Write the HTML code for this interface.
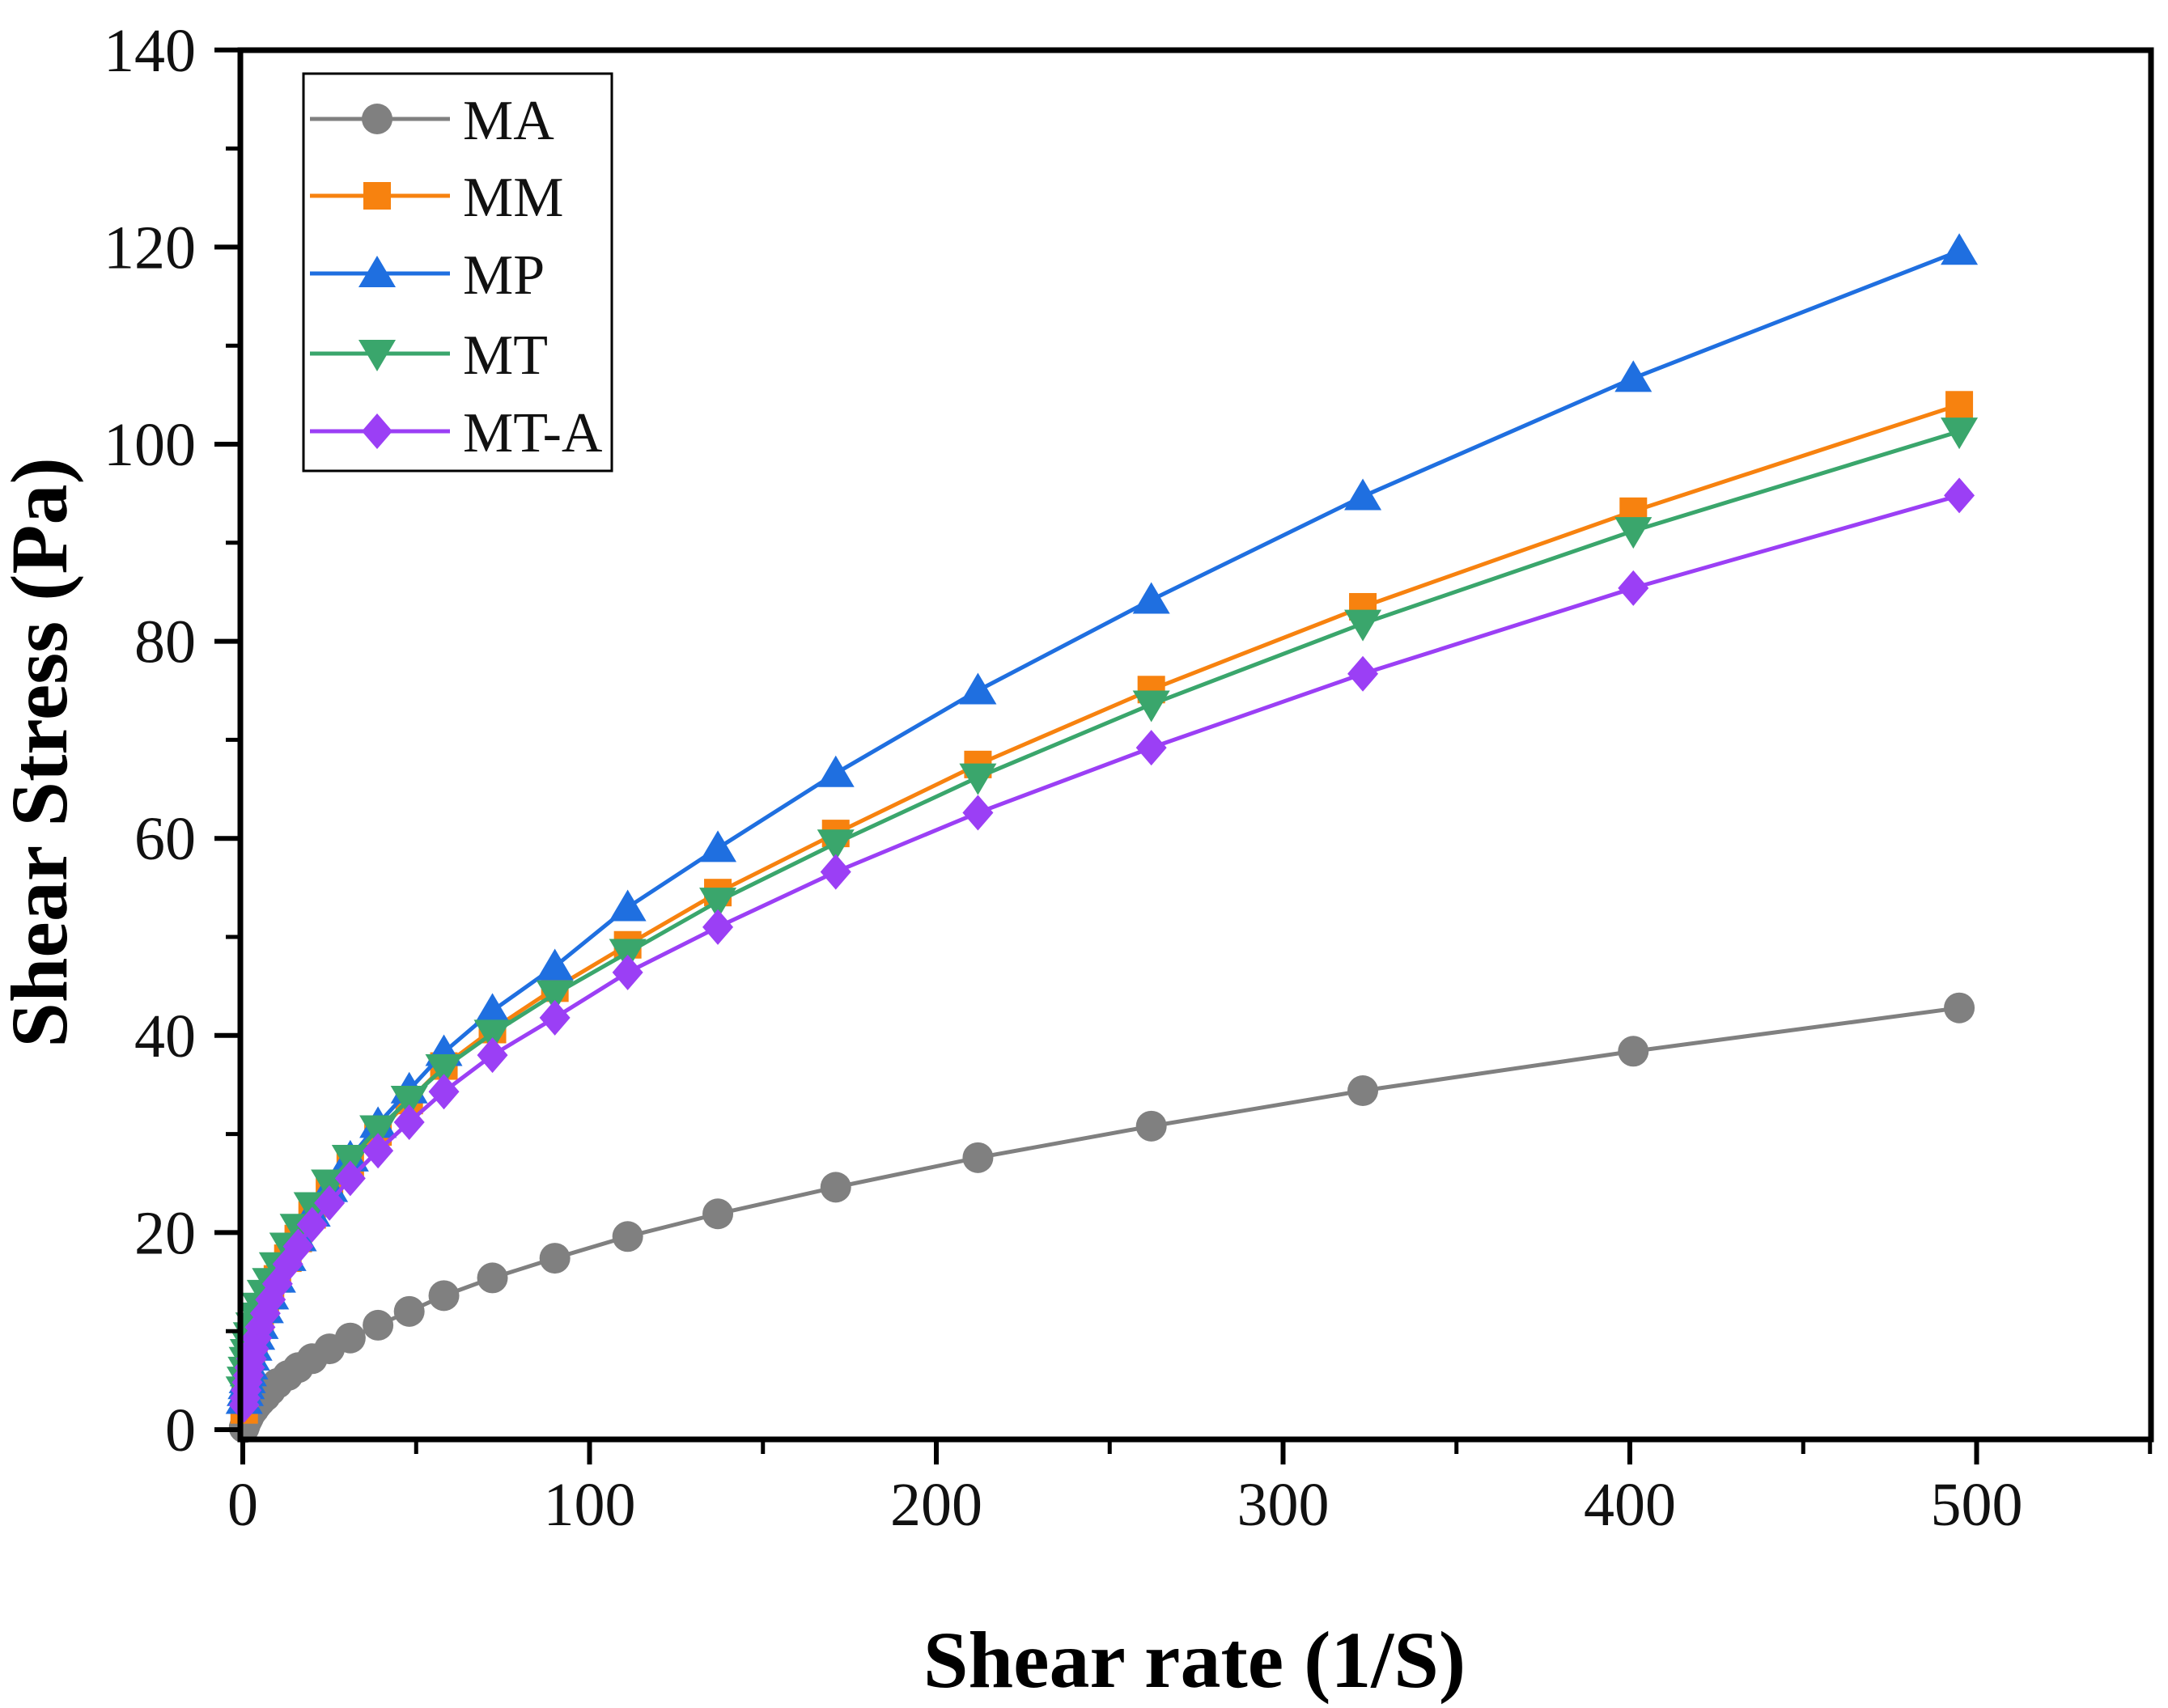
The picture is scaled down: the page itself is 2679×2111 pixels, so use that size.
<!DOCTYPE html>
<html><head><meta charset="utf-8"><style>
html,body{margin:0;padding:0;background:#fff;}
svg{display:block;font-family:"Liberation Serif",serif;}
</style></head><body>
<svg id="chart" width="2679" height="2111" viewBox="0 0 2679 2111" xmlns="http://www.w3.org/2000/svg">
<g id="marks"></g>
<g id="axes"></g>
<text x="1476" y="2085" font-size="100" font-weight="bold" text-anchor="middle">Shear rate (1/S)</text>
<text transform="translate(82,930) rotate(-90)" font-size="100" font-weight="bold" text-anchor="middle">Shear Stress (Pa)</text>
<g id="legend"></g>
</svg>
<script>
const shearRate = [495,401,323,262,212,171,137,111,90,72,58,48,39,31,25,20,16,13,10,8,6.5,5,4,3.2,2.5,2,1.6,1.3,1,0.7,0.4];
const seriesNames = ["MA","MM","MP","MT","MT-A"];
const maValues = [42.8,38.4,34.4,30.8,27.6,24.6,21.9,19.6,17.4,15.4,13.6,12,10.6,9.3,8.2,7.2,6.3,5.5,4.7,4,3.4,2.9,2.5,2.1,1.8,1.5,1.2,1,0.8,0.5,0.2];
const mmValues = [104,93.2,83.5,75.1,67.5,60.5,54.5,49.2,44.8,40.6,36.9,33.4,30.2,27,24.2,21.8,19.4,17.4,15.3,13.6,12.2,10.7,9.6,8.5,7.5,6.6,5.9,5.2,4,3,2];
const mpValues = [119.6,106.7,94.7,84.2,75,66.6,59,53,47,42.5,38.3,34.5,31,27.6,24.5,22,19.5,17.5,15.3,13.6,12.2,10.6,9.5,8.4,7.4,6.5,5.8,5.1,4.5,3.8,3];
const mtValues = [101.3,91.2,81.8,73.6,66.2,59.5,53.6,48.4,44.2,40.2,36.7,33.5,30.5,27.5,25,22.7,20.5,18.6,16.6,15,13.8,12.5,11.5,10.5,9.5,8.6,7.8,7,6,5,4];
const mtaValues = [94.8,85.4,76.7,69.2,62.6,56.6,51,46.4,41.8,38,34.3,31.2,28.3,25.5,23,20.8,18.6,16.8,14.8,13.2,11.8,10.4,9.3,8.2,7.2,6.3,5.5,4.8,4,3.2,2.5];
const xTicks = [0,100,200,300,400,500];
const yTicks = [0,20,40,60,80,100,120,140];

const NS="http://www.w3.org/2000/svg";
const X0=297,X1=2658,YT=62,YB=1779;
function sx(v){return 300+v*4.285;}
function sy(v){return 1767-v*12.18;}
function mk(tag,attrs,parent){const e=document.createElementNS(NS,tag);for(const k in attrs)e.setAttribute(k,attrs[k]);parent.appendChild(e);return e;}
const marks=document.getElementById('marks'),axes=document.getElementById('axes'),legend=document.getElementById('legend');
const colors=["#808080","#f7820f","#1f6fe0","#3aa66c","#9b3ff5"];
const shapes=["circle","square","up","down","diamond"];
const allVals=[maValues,mmValues,mpValues,mtValues,mtaValues];
function marker(shape,cx,cy,col,parent,name){
  let e;const r=19;
  if(shape==="circle") e=mk('circle',{cx:cx,cy:cy,r:r,fill:col},parent);
  else if(shape==="square") e=mk('rect',{x:cx-17,y:cy-17,width:34,height:34,fill:col},parent);
  else if(shape==="up") e=mk('polygon',{points:`${cx},${cy-22} ${cx-23},${cy+17} ${cx+23},${cy+17}`,fill:col},parent);
  else if(shape==="down") e=mk('polygon',{points:`${cx},${cy+22} ${cx-23},${cy-17} ${cx+23},${cy-17}`,fill:col},parent);
  else e=mk('polygon',{points:`${cx},${cy-22} ${cx+19},${cy} ${cx},${cy+22} ${cx-19},${cy}`,fill:col},parent);
  
  
  return e;
}
allVals.forEach((vals,si)=>{
  const g=mk('g',{},marks);
  
  
  const pts=shearRate.map((x,i)=>sx(x)+','+sy(vals[i])).join(' ');
  const l=mk('polyline',{points:pts,fill:'none',stroke:colors[si],'stroke-width':5},g);
  
  
  shearRate.forEach((x,i)=>marker(shapes[si],sx(x),sy(vals[i]),colors[si],g,'point-'+seriesNames[si].toLowerCase()));
});
const frame=mk('rect',{x:X0,y:YT,width:X1-X0,height:YB-YT,fill:'none',stroke:'#000','stroke-width':7},axes);


xTicks.forEach(v=>{
  const t=mk('line',{x1:sx(v),x2:sx(v),y1:YB,y2:YB+31,stroke:'#000','stroke-width':6},axes);
  
  
  const l=mk('text',{x:sx(v),y:1885,'font-size':76,'text-anchor':'middle',fill:'#111'},axes);l.textContent=v;
  
  
});
[50,150,250,350,450,550].forEach(v=>{
  const t=mk('line',{x1:sx(v),x2:sx(v),y1:YB,y2:YB+18,stroke:'#000','stroke-width':5},axes);
  
  
});
yTicks.forEach(v=>{
  const t=mk('line',{x1:X0-32,x2:X0,y1:sy(v),y2:sy(v),stroke:'#000','stroke-width':6},axes);
  
  
  const l=mk('text',{x:242,y:sy(v)+26,'font-size':76,'text-anchor':'end',fill:'#111'},axes);l.textContent=v;
  
  
});
[10,30,50,70,90,110,130].forEach(v=>{
  const t=mk('line',{x1:X0-18,x2:X0,y1:sy(v),y2:sy(v),stroke:'#000','stroke-width':5},axes);
  
  
});
const lb=mk('rect',{x:375,y:91,width:381,height:491,fill:'#fff',stroke:'#000','stroke-width':3},legend);


const ly=[147,242,338,437,533];
seriesNames.forEach((n,i)=>{
  const g=mk('g',{},legend);
  
  
  mk('line',{x1:383,x2:556,y1:ly[i],y2:ly[i],stroke:colors[i],'stroke-width':5},g);
  marker(shapes[i],466,ly[i],colors[i],g,'legend-marker');
  const t=mk('text',{x:572,y:ly[i]+25,'font-size':70,fill:'#111'},g);t.textContent=n;
  
  
});
</script>
</body></html>
